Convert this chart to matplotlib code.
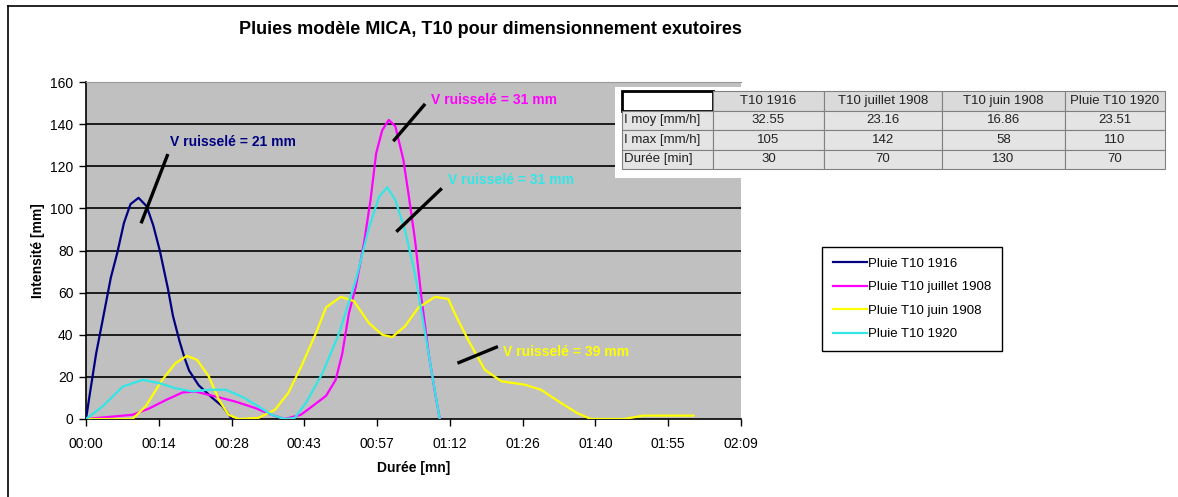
import matplotlib
matplotlib.use("Agg")
import matplotlib.pyplot as plt
from matplotlib.lines import Line2D

plt.rcParams["font.family"] = ["Liberation Sans", "DejaVu Sans"]

# Hydrogrammes de pluie T10 (temps en minutes, intensité en mm/h)
t_1916 = [0, 0.7, 2.0, 3.3, 4.9, 6.2, 7.5, 8.8, 10.4, 12.0, 13.3, 14.6, 16.2, 17.2,
          18.5, 19.5, 20.4, 22.3, 25.0, 27.0, 28.9]
i_1916 = [0, 11, 31, 47, 67, 79, 93, 102, 105, 101, 92, 80, 62, 49,
          37, 29, 23, 16, 10, 6, 0]

t_juil_1908 = [0, 4.6, 9.2, 12.5, 15.8, 19.1, 21.7, 25.6, 29.5, 33.5, 36.7, 39.3,
               42.5, 44.2, 47.5, 49.4, 50.7, 52.0, 53.4, 55.0, 56.3, 57.4, 58.6,
               59.9, 61.2, 62.8, 63.8, 65.1, 66.4, 67.8, 69.1, 70.0]
i_juil_1908 = [0, 1, 2, 5, 9, 12.6, 13, 10.7, 8.3, 5.2, 2, 0,
               2, 5, 11, 18.6, 31, 50, 63, 83.5, 104, 126, 137,
               142, 139, 123, 107, 85, 57, 31, 12, 0]

t_juin_1908 = [0, 2.7, 9.2, 11.8, 15.1, 17.7, 20.0, 22.0, 24.3, 26.3, 28.2, 30.2,
               34.1, 37.4, 40.0, 42.6, 45.5, 47.5, 50.4, 53.0, 56.0, 58.6, 60.6,
               63.1, 65.8, 69.1, 71.7, 73.0, 75.6, 78.9, 82.2, 86.8, 90.0, 94.0,
               97.2, 99.9, 106.4, 110.3, 120.2]
i_juin_1908 = [0, 0, 0, 6, 18.6, 26.5, 30, 28, 20.2, 9.1, 2, 0,
               0.5, 4.4, 12.3, 25, 40.8, 53, 58, 56, 45.5, 40, 38.9,
               44, 53, 58, 57, 50, 37.6, 23.4, 17.9, 16.3, 13.9, 7.6,
               2.8, 0, 0, 1.6, 1.6]

t_1920 = [0, 3.3, 7.3, 11.2, 14.5, 17.7, 21.0, 24.3, 27.6, 30.8, 34.1, 36.7, 39.3,
          41.3, 43.5, 46.8, 50.1, 53.4, 56.0, 58.0, 59.6, 61.2, 63.1, 65.1, 67.1,
          69.1, 70.0]
i_1920 = [0, 6, 15.4, 18.6, 17, 14.6, 13.1, 13.9, 13.9, 10.7, 6, 2, 0,
          0.5, 7.6, 21.8, 40.8, 66, 91, 105.5, 110, 104, 89.7, 69, 40.8,
          12.3, 0]

series_names = ["Pluie T10 1916", "Pluie T10 juillet 1908",
                "Pluie T10 juin 1908", "Pluie T10 1920"]
volumes_mm = [21, 31, 39, 31]

# axe temps Excel : pas de 0,01 jour = 14,4 min
x_ticks_min = [0, 14.4, 28.8, 43.2, 57.6, 72.0, 86.4, 100.8, 115.2, 129.6]
x_tick_labels = ["00:00", "00:14", "00:28", "00:43", "00:57",
                 "01:12", "01:26", "01:40", "01:55", "02:09"]
y_ticks = [0, 20, 40, 60, 80, 100, 120, 140, 160]

table_cols = ["", "T10 1916", "T10 juillet 1908", "T10 juin 1908", "Pluie T10 1920"]
table_rows = ["I moy [mm/h]", "I max [mm/h]", "Durée [min]"]
i_moy = ["32.55", "23.16", "16.86", "23.51"]
i_max = ["105", "142", "58", "110"]
duree = ["30", "70", "130", "70"]

colors = ["#000080", "#FF00FF", "#FFFF00", "#33E6E6"]

W, H = 1178, 497
fig = plt.figure(figsize=(W / 100, H / 100), dpi=100)
fig.patch.set_facecolor("white")

# cadre du graphique (haut et gauche)
fig.add_artist(Line2D([8 / W, 1], [1 - 6 / H, 1 - 6 / H], color="black", lw=1.2))
fig.add_artist(Line2D([8 / W, 8 / W], [0, 1 - 6 / H], color="black", lw=1.2))

ax = fig.add_axes([86 / W, 1 - 419 / H, (741 - 86) / W, (419 - 82) / H])
ax.set_facecolor("#C0C0C0")

for t, v, c, name in zip([t_1916, t_juil_1908, t_juin_1908, t_1920],
                         [i_1916, i_juil_1908, i_juin_1908, i_1920],
                         colors, series_names):
    ax.plot(t, v, color=c, lw=1.6, label=name, zorder=3)

ax.set_xlim(0, 129.6)
ax.set_ylim(0, 160)
ax.set_xticks(x_ticks_min)
ax.set_xticklabels(x_tick_labels)
ax.set_yticks(y_ticks)
for y in y_ticks[1:-1]:
    ax.axhline(y, color="black", lw=1.2, zorder=1)
ax.tick_params(axis="both", direction="out", length=5, width=1, labelsize=10, pad=4)
ax.tick_params(axis="x", pad=8)
ax.spines["top"].set_color("#999999")
ax.spines["right"].set_visible(False)
ax.spines["left"].set_linewidth(1.2)
ax.spines["bottom"].set_linewidth(1.2)

ax.set_xlabel("Durée [mn]", fontsize=10, fontweight="bold", labelpad=7)
ax.set_ylabel("Intensité [mm]", fontsize=10, fontweight="bold", labelpad=4)
fig.text(490 / W, 1 - 30 / H, "Pluies modèle MICA, T10 pour dimensionnement exutoires",
         ha="center", va="center", fontsize=13, fontweight="bold")

# étiquettes de volume ruisselé avec leurs traits de rappel
annotations = [
    # (texte xy, trait début, trait fin, couleur, volume)
    ((16.7, 131.5), (16.2, 125.8), (10.9, 92.9), colors[0], volumes_mm[0]),
    ((68.2, 151.4), (67.1, 149.6), (60.8, 131.9), colors[1], volumes_mm[1]),
    ((82.5, 32.0), (81.5, 34.4), (73.5, 26.5), colors[2], volumes_mm[2]),
    ((71.6, 113.4), (70.4, 109.5), (61.4, 88.9), colors[3], volumes_mm[3]),
]
for (tx, ty), p0, p1, c, vol in annotations:
    ax.plot([p0[0], p1[0]], [p0[1], p1[1]], color="black", lw=2.4, zorder=4,
            solid_capstyle="butt")
    ax.text(tx, ty, f"V ruisselé = {vol} mm", color=c, fontsize=10,
            fontweight="bold", ha="left", va="center", zorder=5)

leg = fig.legend(loc="upper left", bbox_to_anchor=(822 / W, 1 - 247 / H),
                 borderaxespad=0, fontsize=9.5, frameon=True, fancybox=False,
                 edgecolor="black", framealpha=1, handlelength=2.6,
                 handletextpad=0.1, labelspacing=0.85, borderpad=0.8)
leg.get_frame().set_linewidth(1.0)

# tableau récapitulatif
tax = fig.add_axes([615 / W, 1 - 178 / H, (1170 - 615) / W, (178 - 87) / H], zorder=10)
tax.set_facecolor("white")
tax.set_xticks([])
tax.set_yticks([])
for s in tax.spines.values():
    s.set_visible(False)

cell_text = [table_cols] + [[r] + vals for r, vals in zip(table_rows, [i_moy, i_max, duree])]
col_w = [91, 111, 118, 123, 100]
col_w = [w / sum(col_w) for w in col_w]
tab = tax.table(cellText=cell_text, colWidths=col_w,
                bbox=[7 / 555, 9 / 91, 543 / 555, 78 / 91], cellLoc="center")
tab.auto_set_font_size(False)
tab.set_fontsize(9.5)
for (r, c), cell in tab.get_celld().items():
    cell.set_edgecolor("#808080")
    cell.set_linewidth(0.8)
    cell.set_facecolor("#E4E4E4" if r > 0 else "#DADADA")
    cell.get_text().set_color("#222222")
    if c == 0:
        cell.get_text().set_ha("left")
        cell.PAD = 0.02
tl = tab[0, 0]
tl.set_facecolor("white")
tl.set_edgecolor("black")
tl.set_linewidth(2.0)

fig.savefig("out.png", dpi=100)
